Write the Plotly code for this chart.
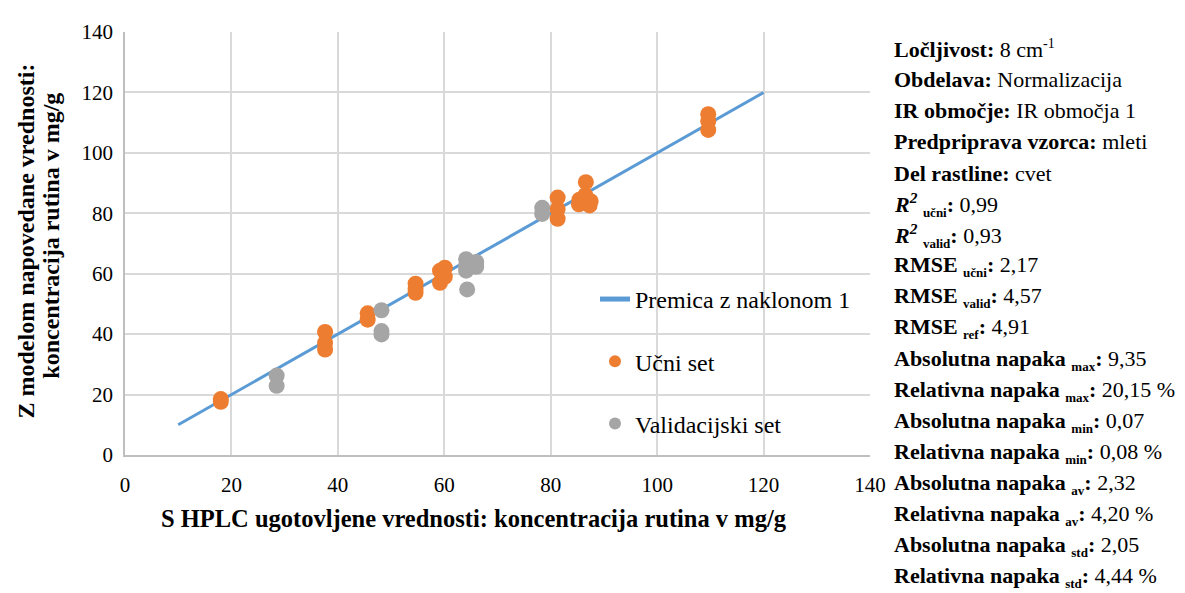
import plotly.graph_objects as go

# ---- data ----
line_x = [10, 120]
line_y = [10, 120]

ucni_x = [18, 18, 37.6, 37.6, 37.6, 45.6, 45.6, 54.6, 54.6, 54.6, 59.2, 59.2, 60.1, 60.1,
          81.3, 81.3, 81.3, 85.4, 85.3, 86.5, 87.5, 87.3, 86.6, 109.6, 109.6, 109.6]
ucni_y = [18.5, 17.6, 40.7, 37.1, 34.9, 46.9, 44.8, 56.7, 55.0, 53.7, 61.0, 57.0, 62.0, 59.0,
          85.2, 81.4, 78.2, 84.5, 83.0, 86.0, 84.0, 82.6, 90.3, 112.8, 110.5, 107.6]

valid_x = [28.5, 28.5, 48.2, 48.2, 48.2, 64.1, 64.1, 64.1, 66.0, 66.0, 64.3, 78.4, 78.4]
valid_y = [26.3, 22.9, 47.9, 41.0, 39.9, 64.8, 62.6, 61.0, 63.9, 62.3, 54.8, 81.8, 79.8]

x_ticks = [0, 20, 40, 60, 80, 100, 120, 140]
y_ticks = [0, 20, 40, 60, 80, 100, 120, 140]


def sub(t):
    return " <sub><span style='font-size:13px'>" + t + "</span></sub>"


info_lines = [
    "<b>Ločljivost:</b> 8 cm<sup><span style='font-size:14px'>-1</span></sup>",
    "<b>Obdelava:</b> Normalizacija",
    "<b>IR območje:</b> IR območja 1",
    "<b>Predpriprava vzorca:</b> mleti",
    "<b>Del rastline:</b> cvet",
    "<b><i>R<sup>2</sup></i></b><b>" + sub("učni") + ":</b> 0,99",
    "<b><i>R<sup>2</sup></i></b><b>" + sub("valid") + ":</b> 0,93",
    "<b>RMSE" + sub("učni") + ":</b> 2,17",
    "<b>RMSE" + sub("valid") + ":</b> 4,57",
    "<b>RMSE" + sub("ref") + ":</b> 4,91",
    "<b>Absolutna napaka" + sub("max") + ":</b> 9,35",
    "<b>Relativna napaka" + sub("max") + ":</b> 20,15 %",
    "<b>Absolutna napaka" + sub("min") + ":</b> 0,07",
    "<b>Relativna napaka" + sub("min") + ":</b> 0,08 %",
    "<b>Absolutna napaka" + sub("av") + ":</b> 2,32",
    "<b>Relativna napaka" + sub("av") + ":</b> 4,20 %",
    "<b>Absolutna napaka" + sub("std") + ":</b> 2,05",
    "<b>Relativna napaka" + sub("std") + ":</b> 4,44 %",
]

FONT = "Liberation Serif, Tinos, 'Times New Roman', 'DejaVu Serif', serif"
OFF = 8  # page body margin
W, H = 1185 - OFF, 593 - OFF
L, R, T, B = 125 - OFF, 870 - OFF, 25 - OFF, 455 - OFF  # plot area in figure px

fig = go.Figure()
fig.add_trace(go.Scatter(x=line_x, y=line_y, mode="lines", name="Premica z naklonom 1",
                         line=dict(color="#5B9BD5", width=3), legendgroup="a"))
fig.add_trace(go.Scatter(x=ucni_x, y=ucni_y, mode="markers", name="Učni set",
                         marker=dict(color="#ED7D31", size=16), legendgroup="b"))
fig.add_trace(go.Scatter(x=valid_x, y=valid_y, mode="markers", name="Validacijski set",
                         marker=dict(color="#A5A5A5", size=16), legendgroup="c"))

def px2paper_x(px):
    px -= OFF
    return (px - L) / (R - L)

def py2paper_y(py):
    py -= OFF
    return (B - py) / (B - T)

annotations = []
y0, dy = 42, 31.6
for i, t in enumerate(info_lines):
    annotations.append(dict(text=t, x=px2paper_x(892), y=py2paper_y(y0 + i * dy),
                            xref="paper", yref="paper", xanchor="left", yanchor="middle",
                            showarrow=False, font=dict(family=FONT, size=22, color="black")))

annotations.append(dict(text="<b>S HPLC ugotovljene vrednosti: koncentracija rutina v mg/g</b>",
                        x=px2paper_x(474), y=py2paper_y(520), xref="paper", yref="paper",
                        xanchor="center", yanchor="middle", showarrow=False,
                        font=dict(family=FONT, size=24.5, color="black")))
annotations.append(dict(text="<b>Z modelom napovedane vrednosti:</b>",
                        x=px2paper_x(26), y=py2paper_y(238), xref="paper", yref="paper",
                        xanchor="center", yanchor="middle", showarrow=False, textangle=-90,
                        font=dict(family=FONT, size=24, color="black")))
annotations.append(dict(text="<b>koncentracija rutina v mg/g</b>",
                        x=px2paper_x(51), y=py2paper_y(232), xref="paper", yref="paper",
                        xanchor="center", yanchor="middle", showarrow=False, textangle=-90,
                        font=dict(family=FONT, size=24, color="black")))

fig.update_layout(
    width=W, height=H,
    margin=dict(l=L, r=W - R, t=T, b=H - B, pad=0),
    paper_bgcolor="white", plot_bgcolor="white",
    font=dict(family=FONT, size=21, color="black"),
    showlegend=True,
    legend=dict(x=px2paper_x(595), y=py2paper_y(274), xanchor="left", yanchor="top",
                bgcolor="rgba(0,0,0,0)", font=dict(family=FONT, size=24, color="black"),
                tracegroupgap=28, itemsizing="constant"),
    annotations=annotations,
)
fig.update_xaxes(range=[0, 140], tickvals=x_ticks, ticktext=[str(v) for v in x_ticks],
                 showgrid=True, gridcolor="#D9D9D9", gridwidth=1.5,
                 showline=True, linecolor="#BFBFBF", linewidth=1.5, zeroline=False,
                 ticks="", ticklabelstandoff=10, tickfont=dict(family=FONT, size=21))
fig.update_yaxes(range=[0, 140], tickvals=y_ticks, ticktext=[str(v) for v in y_ticks],
                 showgrid=True, gridcolor="#D9D9D9", gridwidth=1.5,
                 showline=True, linecolor="#BFBFBF", linewidth=1.5, zeroline=False,
                 ticks="", ticklabelstandoff=6, tickfont=dict(family=FONT, size=21))

fig.write_html("out.html")
